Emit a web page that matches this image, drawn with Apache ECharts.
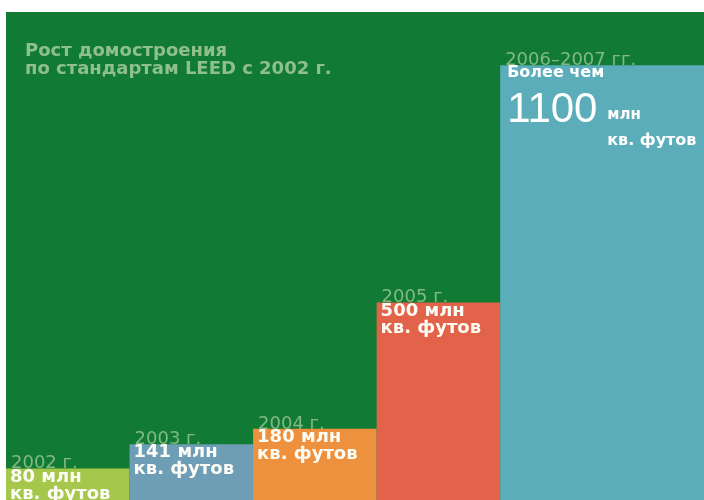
<!DOCTYPE html>
<html>
<head>
<meta charset="utf-8">
<script src="https://cdn.jsdelivr.net/npm/echarts@6/dist/echarts.min.js"></script>
<style>
  html, body { margin: 0; padding: 0; background: #fff; }
  #main { width: 704px; height: 500px; }
</style>
</head>
<body>
<div id="main"></div>
<script>
// периоды и площадь (млн кв. футов)
var periods = ['2002 г.', '2003 г.', '2004 г.', '2005 г.', '2006–2007 гг.'];
var areas = [80, 141, 180, 500, 1100];
// границы столбцов по горизонтали (в долях года)
var spanStart = [0, 1, 2, 3, 4];
var spanEnd = [1, 2, 3, 4, 5.65];
var colors = ['#a4c74c', '#6e9db6', '#ee913f', '#e2634a', '#5badb9'];

var pale = '#8fc08a';
var bold = 'bold 18px "DejaVu Sans"';

var chart = echarts.init(document.getElementById('main'));

function renderItem(params, api) {
    var i = params.dataIndex;
    var p0 = api.coord([api.value(0), api.value(2)]);
    var p1 = api.coord([api.value(1), 0]);
    var x = p0[0], top = p0[1];
    var kids = [{
        type: 'rect',
        shape: { x: x, y: top, width: p1[0] - x, height: p1[1] - top },
        style: { fill: colors[i] }
    }, {
        type: 'text', x: x + 5, y: top + 4, z2: 5,
        style: { text: periods[i], fill: pale, opacity: 0.9, font: '18px "DejaVu Sans"', verticalAlign: 'bottom' }
    }];
    if (i < areas.length - 1) {
        kids.push({
            type: 'text', x: x + 4, y: top, z2: 6,
            style: {
                text: api.value(2) + ' млн\nкв. футов', fill: '#fcfcf4', font: bold,
                lineHeight: 17, verticalAlign: 'top'
            }
        });
    } else {
        kids.push({
            type: 'text', x: x + 7, y: top - 1, z2: 6,
            style: { text: 'Более чем', fill: '#fff', font: 'bold 16px "DejaVu Sans"', verticalAlign: 'top' }
        }, {
            type: 'text', x: x + 7, y: top + 66, z2: 6,
            style: { text: String(api.value(2)), fill: '#fff', font: '42px "Liberation Sans"', verticalAlign: 'bottom' }
        }, {
            type: 'text', x: x + 107, y: top + 57, z2: 6,
            style: { text: 'млн', fill: '#fff', font: 'bold 15px "DejaVu Sans"', verticalAlign: 'bottom' }
        }, {
            type: 'text', x: x + 107, y: top + 83, z2: 6,
            style: { text: 'кв. футов', fill: '#fff', font: 'bold 16px "DejaVu Sans"', verticalAlign: 'bottom' }
        });
    }
    return { type: 'group', children: kids };
}

chart.setOption({
    animation: false,
    backgroundColor: '#fff',
    title: {
        text: 'Рост домостроения\nпо стандартам LEED с 2002 г.',
        left: 20, top: 37,
        textStyle: { color: pale, fontFamily: 'DejaVu Sans', fontWeight: 'bold', fontSize: 18, lineHeight: 18 }
    },
    grid: {
        left: 6, right: 0, top: 12, bottom: 0,
        show: true, backgroundColor: '#117a34', borderWidth: 0
    },
    xAxis: { type: 'value', min: 0, max: 5.65, show: false },
    yAxis: { type: 'value', min: 0, max: 1235, show: false },
    series: [{
        type: 'custom',
        renderItem: renderItem,
        encode: { x: [0, 1], y: 2 },
        data: areas.map(function (v, i) { return [spanStart[i], spanEnd[i], v]; })
    }]
});
</script>
</body>
</html>
